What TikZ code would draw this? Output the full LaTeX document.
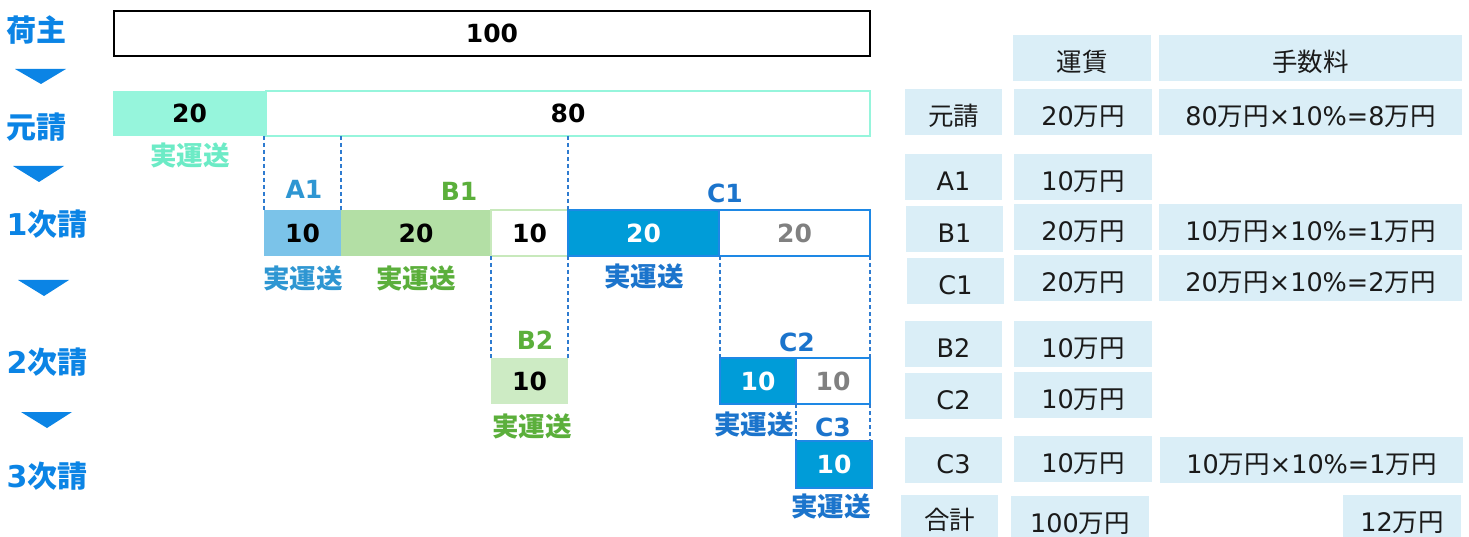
\documentclass[tikz,border=0pt]{standalone}
\usepackage{fontspec}
\setmainfont{Noto Sans CJK JP}
\newfontfamily\dv{DejaVu Sans}
\definecolor{stageblue}{HTML}{0B84E5}
\definecolor{mintfill}{HTML}{96F5DC}
\definecolor{minttext}{HTML}{6CEBC6}
\definecolor{afill}{HTML}{7BC3E9}
\definecolor{atext}{HTML}{2E96D2}
\definecolor{bfill}{HTML}{B3DFA5}
\definecolor{btext}{HTML}{5BAF3B}
\definecolor{bborder}{HTML}{C8E9BC}
\definecolor{b2fill}{HTML}{CDEBC4}
\definecolor{cfill}{HTML}{009CD8}
\definecolor{cborder}{HTML}{1E88E5}
\definecolor{ctext}{HTML}{1B74CC}
\definecolor{dashblue}{HTML}{2E7BD0}
\definecolor{grey}{HTML}{808080}
\definecolor{tfill}{HTML}{DAEEF7}
\definecolor{ink}{HTML}{1A1A1A}
\begin{document}
\begin{tikzpicture}[x=1pt,y=-1pt,
  every node/.style={inner sep=0pt,outer sep=0pt},
  stage/.style={font=\fontsize{30}{32}\selectfont\bfseries,text=stageblue,text height=22.8pt,text depth=0pt},
  lbl/.style={font=\fontsize{26.5}{29}\selectfont\bfseries,text height=20.1pt,text depth=0pt},
  latlbl/.style={font=\fontsize{25}{28}\selectfont\bfseries\dv,text height=18.2pt,text depth=0pt},
  seg/.style={font=\fontsize{25}{28}\selectfont\bfseries\dv,text height=18.2pt,text depth=0pt,minimum height=46pt},
  tri/.style={fill=stageblue},
  dashln/.style={draw=dashblue,line width=1.3pt,dash pattern=on 4pt off 3pt},
  tcell/.style={fill=tfill,text=ink,font=\fontsize{25.5}{28}\selectfont,text height=26.9pt,text depth=0pt,minimum height=46pt},
]
\clip (0,0) rectangle (1469,537);
\fill[white] (0,0) rectangle (1469,537);

% stage labels
\node[stage] (sNushi) at (36,30) {荷主};
\node[stage] (sMoto) at (36,127) {元請};
\node[stage] (s1) at (47,224) {{\dv 1}次請};
\node[stage] (s2) at (47,362) {{\dv 2}次請};
\node[stage] (s3) at (47,476) {{\dv 3}次請};
\fill[tri] (15,69) -- (66,69) -- (41,84) -- cycle;
\fill[tri] (13,166) -- (64,166) -- (39,182) -- cycle;
\fill[tri] (18,280) -- (69,280) -- (44,296) -- cycle;
\fill[tri] (21,412) -- (72,412) -- (47,428) -- cycle;

% top rows
\node[seg,draw=black,line width=2pt,fill=white,minimum width=756pt,minimum height=45pt] (nushi) at (492,33.5) {100};
\node[seg,fill=mintfill,minimum width=153pt,minimum height=45pt] (m20) at (189.5,113.5) {20};
\node[seg,draw=mintfill,line width=2pt,fill=white,minimum width=604pt,minimum height=45pt] (m80) at (568,113.5) {80};
\node[lbl,text=minttext] (mj) at (190,155) {実運送};

% first tier
\node[seg,fill=afill,minimum width=77pt] (a1) at (302.5,233) {10};
\node[seg,fill=bfill,minimum width=150pt] (b1) at (416,233) {20};
\node[seg,draw=bborder,line width=2pt,fill=white,minimum width=77pt] (b1r) at (529.5,233) {10};
\node[seg,fill=cfill,draw=cborder,line width=2pt,text=white,minimum width=151pt] (c1a) at (643.5,233) {20};
\node[seg,draw=cborder,line width=2pt,fill=white,text=grey,minimum width=151pt] (c1b) at (794.5,233) {20};
\node[latlbl,text=atext] (la1) at (304,189) {A1};
\node[latlbl,text=btext] (lb1) at (459,191) {B1};
\node[latlbl,text=ctext] (lc1) at (725,193) {C1};
\node[lbl,text=atext] (ja1) at (303,278) {実運送};
\node[lbl,text=btext] (jb1) at (416,278) {実運送};
\node[lbl,text=ctext] (jc1) at (644,276) {実運送};

% second tier
\node[seg,fill=b2fill,minimum width=77pt] (b2) at (529.5,381) {10};
\node[seg,fill=cfill,draw=cborder,line width=2pt,text=white,minimum width=76pt] (c2a) at (758,381) {10};
\node[seg,draw=cborder,line width=2pt,fill=white,text=grey,minimum width=74pt] (c2b) at (833,381) {10};
\node[latlbl,text=btext] (lb2) at (535,340) {B2};
\node[latlbl,text=ctext] (lc2) at (797,342) {C2};
\node[lbl,text=btext] (jb2) at (532,426) {実運送};
\node[lbl,text=ctext] (jc2) at (754,424) {実運送};

% third tier
\node[seg,fill=cfill,draw=cborder,line width=2pt,text=white,minimum width=76pt,minimum height=47pt] (c3) at (834,464.5) {10};
\node[latlbl,text=ctext] (lc3) at (833,427) {C3};
\node[lbl,text=ctext] (jc3) at (831,506) {実運送};

% dashed guides
\draw[dashln] (a1.north west |- m80.south) -- (a1.north west);
\draw[dashln] (a1.north east |- m80.south) -- (a1.north east);
\draw[dashln] (c1a.north west |- m80.south) -- (c1a.north west);
\draw[dashln] (b2.north west |- b1r.south) -- (b2.north west);
\draw[dashln] (b2.north east |- b1r.south) -- (b2.north east);
\draw[dashln] (c2a.north west |- c1b.south) -- (c2a.north west);
\draw[dashln] (c2b.north east |- c1b.south) -- (c2b.north east);
\draw[dashln] (c2b.south west) -- (c2b.south west |- c3.north);
\draw[dashln] (c2b.south east) -- (c2b.south east |- c3.north);

% table
\node[tcell,minimum width=138pt] (hUnchin) at (1082,58) {運賃};
\node[tcell,minimum width=303pt] (hTesu) at (1310.5,58) {手数料};

\node[tcell,minimum width=97pt] (rMoto) at (953.5,112) {元請};
\node[tcell,minimum width=138pt] (vMoto) at (1083,112) {{\dv 20}万円};
\node[tcell,minimum width=303pt] (fMoto) at (1310.5,112) {{\dv 80}万円{\dv ×10\%=8}万円};

\node[tcell,minimum width=97pt] (rA1) at (953.5,177) {\dv A1};
\node[tcell,minimum width=138pt] (vA1) at (1083,177) {{\dv 10}万円};

\node[tcell,minimum width=97pt] (rB1) at (954.5,229) {\dv B1};
\node[tcell,minimum width=138pt] (vB1) at (1083,227) {{\dv 20}万円};
\node[tcell,minimum width=303pt] (fB1) at (1310.5,227) {{\dv 10}万円{\dv ×10\%=1}万円};

\node[tcell,minimum width=97pt] (rC1) at (955.5,281) {\dv C1};
\node[tcell,minimum width=138pt] (vC1) at (1083,278) {{\dv 20}万円};
\node[tcell,minimum width=303pt] (fC1) at (1310.5,278) {{\dv 20}万円{\dv ×10\%=2}万円};

\node[tcell,minimum width=97pt] (rB2) at (953.5,344) {\dv B2};
\node[tcell,minimum width=138pt] (vB2) at (1083,344) {{\dv 10}万円};

\node[tcell,minimum width=97pt] (rC2) at (953.5,396) {\dv C2};
\node[tcell,minimum width=138pt] (vC2) at (1083,395) {{\dv 10}万円};

\node[tcell,minimum width=97pt] (rC3) at (953.5,460) {\dv C3};
\node[tcell,minimum width=138pt] (vC3) at (1083,459) {{\dv 10}万円};
\node[tcell,minimum width=303pt] (fC3) at (1311.5,460) {{\dv 10}万円{\dv ×10\%=1}万円};

\node[tcell,minimum width=97pt,minimum height=42pt] (rSum) at (949.5,516) {合計};
\node[tcell,minimum width=138pt,minimum height=46pt] (vSum) at (1080,519) {{\dv 100}万円};
\node[tcell,minimum width=118pt,minimum height=46pt] (fSum) at (1402,518) {{\dv 12}万円};
\end{tikzpicture}
\end{document}
